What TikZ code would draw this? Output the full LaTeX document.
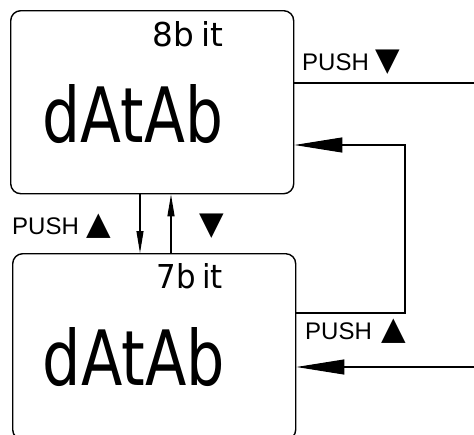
\documentclass[tikz,border=0pt]{standalone}
\usepackage{fontspec}
\setmainfont{Liberation Sans}
\newfontfamily\symfont{DejaVu Sans}
\newfontfamily\lcdfont{DejaVu Sans}
\usetikzlibrary{arrows.meta}
\tikzset{
  lcdbox/.style={draw, line width=1.4pt, rounded corners=10pt, inner sep=0pt, anchor=north west},
  conn/.style={line width=1.1pt},
  bighead/.style={-{Triangle[length=48pt,width=15pt]}},
  smallhead/.style={-{Triangle[length=22pt,width=7pt]}},
  pushlbl/.style={inner sep=0pt, anchor=base west, font=\fontsize{24}{24}\selectfont},
  lcdtext/.style={inner sep=0pt, anchor=center},
}
\newcommand{\lcd}[3]{\resizebox{#1pt}{#2pt}{\lcdfont #3}}
\newcommand{\tri}[1]{{\symfont\fontsize{32}{32}\selectfont #1}}
\begin{document}
\begin{tikzpicture}[x=1pt,y=-1pt]
\useasboundingbox (0,0) rectangle (474,434);
\begin{scope}
\clip (0,0) rectangle (474,434);
% boxes
\node[lcdbox, minimum width=283pt, minimum height=183pt] (top) at (10,10) {};
\node[lcdbox, minimum width=283pt, minimum height=186pt] (bot) at (12,253) {};
% display texts
\node[lcdtext] (t8) at (188,34.5) {\lcd{70}{25}{8b\kern0.2em it}};
\node[lcdtext] (td) at (133,114) {\lcd{180}{58}{dAtAb}};
\node[lcdtext] (b7) at (190,276.5) {\lcd{66}{25}{7b\kern0.2em it}};
\node[lcdtext] (bd) at (134,357) {\lcd{182}{58}{dAtAb}};
% free ends
\coordinate (in1) at (474,83);
\coordinate (in2) at (474,367);
\coordinate (fb) at (405,313);
\coordinate (fbt) at (405,145);
\coordinate (d1) at (140,0);
\coordinate (u1) at (171,0);
% connectors
\draw[conn] (top.east |- in1) -- (in1);
\draw[conn, bighead] (in2) -- (bot.east |- in2);
\draw[conn, bighead] (bot.east |- fb) -- (fb) -- (fbt) -- (top.east |- fbt);
\draw[conn, smallhead] (top.south -| d1) -- (bot.north -| d1);
\draw[conn, smallhead] (bot.north -| u1) -- (top.south -| u1);
\end{scope}
% labels
\node[pushlbl] (l1) at (302,70) {PUSH\hspace{7pt}\tri{▼}};
\node[pushlbl] (l2) at (305,339) {PUSH\hspace{10pt}\tri{▲}};
\node[pushlbl] (l3) at (12,234) {PUSH\hspace{8pt}\tri{▲}};
\node[pushlbl] (l4) at (199,234) {\tri{▼}};
\end{tikzpicture}
\end{document}
